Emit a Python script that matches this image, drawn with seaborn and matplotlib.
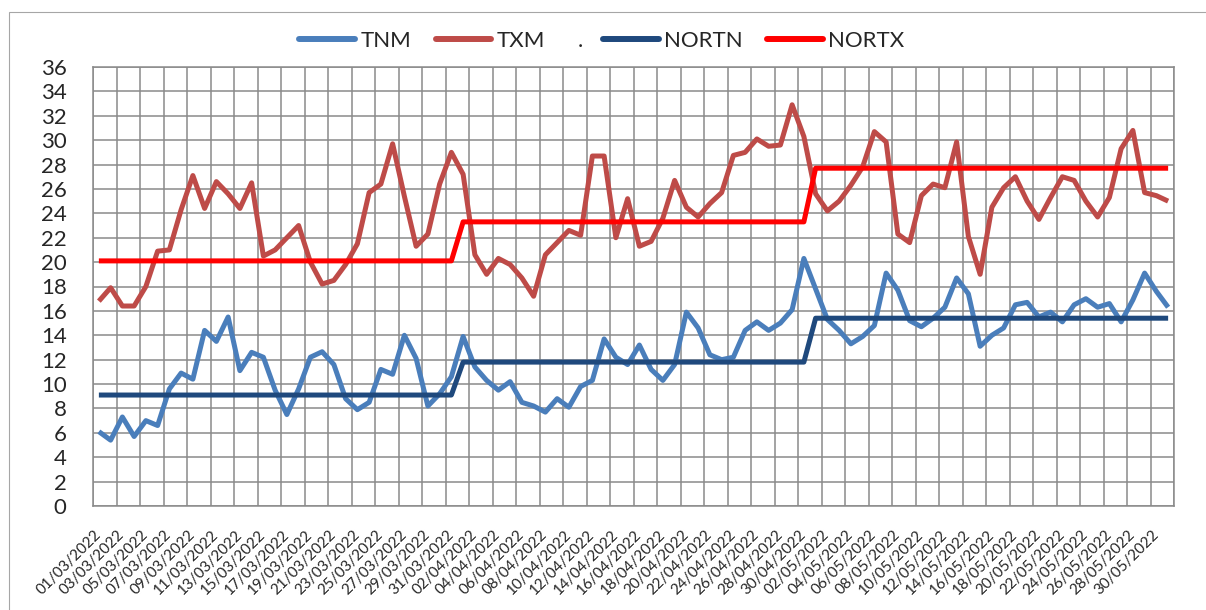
import numpy as np
import pandas as pd
import matplotlib
matplotlib.use("Agg")
import matplotlib.pyplot as plt
import seaborn as sns
from matplotlib.lines import Line2D
from matplotlib.patches import Rectangle

# ---------------- data ----------------
DATES = pd.date_range("2022-03-01", "2022-05-31", freq="D")

TNM = [6.1, 5.4, 7.3, 5.7, 7.0, 6.6, 9.6, 10.9, 10.4, 14.4,
       13.5, 15.5, 11.1, 12.6, 12.2, 9.5, 7.5, 9.6, 12.2, 12.65,
       11.6, 8.8, 7.9, 8.5, 11.2, 10.8, 14.0, 12.1, 8.2, 9.2,
       10.6, 13.9, 11.4, 10.3, 9.5, 10.2, 8.5, 8.2, 7.7, 8.8,
       8.1, 9.8, 10.3, 13.7, 12.2, 11.6, 13.2, 11.2, 10.3, 11.6,
       15.9, 14.6, 12.4, 12.0, 12.2, 14.4, 15.1, 14.4, 15.0, 16.1,
       20.3, 17.8, 15.3, 14.4, 13.3, 13.9, 14.8, 19.1, 17.7, 15.2,
       14.7, 15.4, 16.3, 18.7, 17.4, 13.1, 14.0, 14.6, 16.5, 16.7,
       15.5, 15.9, 15.1, 16.5, 17.0, 16.3, 16.6, 15.1, 16.9, 19.1,
       17.6, 16.3]

TXM = [16.8, 17.9, 16.4, 16.4, 18.0, 20.9, 21.0, 24.3, 27.1, 24.4,
       26.6, 25.6, 24.4, 26.5, 20.5, 21.0, 22.0, 23.0, 20.0, 18.2,
       18.5, 19.8, 21.5, 25.7, 26.4, 29.7, 25.4, 21.3, 22.3, 26.4,
       29.0, 27.2, 20.6, 19.0, 20.3, 19.8, 18.7, 17.2, 20.6, 21.6,
       22.6, 22.2, 28.7, 28.7, 22.0, 25.2, 21.3, 21.7, 23.6, 26.7,
       24.5, 23.7, 24.8, 25.7, 28.75, 29.0, 30.1, 29.5, 29.6, 32.9,
       30.3, 25.6, 24.2, 25.0, 26.3, 27.8, 30.7, 29.85, 22.3, 21.6,
       25.45, 26.4, 26.1, 29.85, 22.1, 19.0, 24.5, 26.1, 27.0, 25.0,
       23.5, 25.3, 27.0, 26.7, 25.0, 23.7, 25.3, 29.3, 30.8, 25.7,
       25.45, 25.0]

NORM_MONTHS = [3, 4, 5]
NORTN_MONTHLY = [9.1, 11.8, 15.4]
NORTX_MONTHLY = [20.1, 23.3, 27.7]

SERIES = ["TNM", "TXM", "NORTN", "NORTX"]
COLORS = {"TNM": "#4A7EBB", "TXM": "#BE4B48", "NORTN": "#1F497D", "NORTX": "#FF0000"}

# ---------------- style ----------------
sns.set_style("white")
plt.rcParams["font.family"] = ["Lato", "DejaVu Sans"]

month = pd.Series(DATES.month)
nortn = month.map(dict(zip(NORM_MONTHS, NORTN_MONTHLY))).values
nortx = month.map(dict(zip(NORM_MONTHS, NORTX_MONTHLY))).values

df = pd.DataFrame({"idx": np.arange(len(DATES)), "TNM": TNM, "TXM": TXM,
                   "NORTN": nortn, "NORTX": nortx})
long = df.melt(id_vars="idx", var_name="series", value_name="value")

W, H = 1206, 610
fig = plt.figure(figsize=(W / 100, H / 100), dpi=100)
L, R, T, B = 93, 1174, 67, 506
ax = fig.add_axes([L / W, 1 - B / H, (R - L) / W, (B - T) / H])

sns.lineplot(data=long, x="idx", y="value", hue="series", hue_order=SERIES,
             palette=COLORS, linewidth=3.6, ax=ax, legend=False, sort=False)
for ln in ax.get_lines():
    ln.set_solid_joinstyle("round")
    ln.set_solid_capstyle("butt")

GRID = "#8a8a8a"
ax.set_xlim(-0.5, len(DATES) - 0.5)
ax.set_ylim(0, 36)
ax.set_yticks(np.arange(0, 37, 2))
ax.set_xticks(np.arange(0, len(DATES), 2))
ax.set_xticklabels([d.strftime("%d/%m/%Y") for d in DATES[::2]], rotation=45,
                   ha="right", va="center", rotation_mode="anchor", fontsize=11)
ax.set_xticks(np.arange(-0.5, len(DATES), 2), minor=True)
ax.tick_params(axis="x", which="major", length=0, pad=19)
ax.tick_params(axis="x", which="minor", length=4.5, width=1.1, color=GRID, direction="out")
ax.tick_params(axis="y", length=0, pad=19, labelsize=16)
ax.set_axisbelow(True)
ax.grid(True, which="minor", axis="x", color=GRID, lw=1.1)
ax.grid(True, which="major", axis="y", color=GRID, lw=1.1)
ax.grid(False, which="major", axis="x")
for s in ax.spines.values():
    s.set_color(GRID)
    s.set_linewidth(1.1)
ax.set_xlabel("")
ax.set_ylabel("")

# ---------------- legend ----------------
h = {s: Line2D([], [], color=COLORS[s], lw=4.3, solid_capstyle="round") for s in SERIES}
ly = 1 - 41 / H
common = dict(frameon=False, fontsize=16, handletextpad=0.25, columnspacing=1.1,
              borderpad=0, borderaxespad=0)
leg1 = fig.legend([h["TNM"], h["TXM"]], ["TNM", "TXM"], loc="center right",
                  bbox_to_anchor=(545 / W, ly), ncol=2, handlelength=2.5, **common)
leg2 = fig.legend([Line2D([], [], lw=0)], ["."], loc="center",
                  bbox_to_anchor=(578 / W, ly), ncol=1, handlelength=0, **common)
leg3 = fig.legend([h["NORTN"], h["NORTX"]], ["NORTN", "NORTX"], loc="center left",
                  bbox_to_anchor=(603 / W, ly), ncol=2, handlelength=2.5, **common)

# chart-area border
fig.patches.append(Rectangle((9 / W, -0.1), 1.2, (1 - 12 / H) + 0.1,
                             transform=fig.transFigure, fill=False,
                             edgecolor="#a6a6a6", lw=0.8))

fig.savefig("out.png", dpi=100)
